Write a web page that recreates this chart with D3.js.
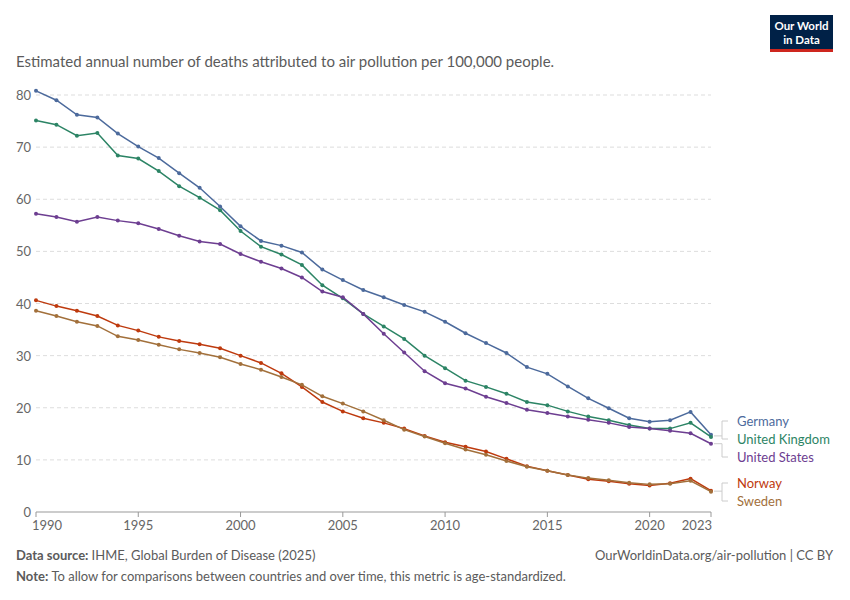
<!DOCTYPE html>
<html><head><meta charset="utf-8">
<script src="https://cdn.jsdelivr.net/npm/d3@7"></script>
<style>body{margin:0;background:#fff;font-family:Lato,sans-serif}</style>
</head><body><svg id="c" width="850" height="600"></svg>
<script>
const years = d3.range(1990, 2024);
const germany = [80.8,79,76.2,75.7,72.6,70.1,67.9,65,62.2,58.6,54.8,52,51.1,49.8,46.5,44.5,42.6,41.2,39.7,38.4,36.5,34.3,32.4,30.5,27.8,26.5,24.1,21.8,19.9,18,17.3,17.6,19.2,14.8];
const uk = [75.1,74.3,72.2,72.7,68.4,67.8,65.4,62.5,60.3,57.9,53.9,50.9,49.4,47.4,43.5,41,38,35.6,33.2,30,27.6,25.2,24,22.7,21.1,20.5,19.3,18.3,17.6,16.7,16,16,17.1,14.4];
const us = [57.2,56.6,55.7,56.6,55.9,55.4,54.3,53,51.9,51.4,49.5,48,46.7,45,42.3,41.2,38,34.2,30.6,27,24.7,23.7,22.1,20.9,19.6,19,18.3,17.7,17.1,16.3,16,15.6,15.1,13.1];
const norway = [40.6,39.5,38.6,37.6,35.8,34.8,33.6,32.8,32.2,31.4,30,28.6,26.6,24,21.1,19.3,18,17.1,16,14.6,13.4,12.5,11.6,10.2,8.8,7.9,7.1,6.3,5.9,5.4,5.1,5.5,6.4,4.1];
const sweden = [38.6,37.6,36.5,35.7,33.7,33,32.1,31.2,30.5,29.7,28.4,27.3,25.9,24.4,22.2,20.8,19.3,17.6,15.8,14.5,13.2,12,11,9.8,8.7,7.9,7.1,6.5,6.1,5.6,5.3,5.4,6,3.9];
const xTicks = [1990,1995,2000,2005,2010,2015,2020,2023];
const yTicks = [0,10,20,30,40,50,60,70,80];
const series = [
  {name:"Germany", v:germany, c:"#4c6a9c", ly:426},
  {name:"United Kingdom", v:uk, c:"#2c8465", ly:444},
  {name:"United States", v:us, c:"#6d3e91", ly:462},
  {name:"Norway", v:norway, c:"#be3a0e", ly:488},
  {name:"Sweden", v:sweden, c:"#a2703b", ly:506}
];
const svg = d3.select("#c");
const x = d3.scaleLinear().domain([1990,2023]).range([36,711]);
const y = d3.scaleLinear().domain([0,80]).range([512,95]);
svg.append("text").attr("x",16).attr("y",67).attr("fill","#5b5b5b").attr("font-size",15)
  .text("Estimated annual number of deaths attributed to air pollution per 100,000 people.");
svg.append("rect").attr("x",770).attr("y",15).attr("width",63).attr("height",37).attr("fill","#002147");
svg.append("rect").attr("x",770).attr("y",49).attr("width",63).attr("height",3).attr("fill","#ce261e");
svg.append("text").attr("x",801.5).attr("y",30).attr("text-anchor","middle").attr("fill","#fff").attr("font-size",11.5).attr("font-weight",700).text("Our World");
svg.append("text").attr("x",801.5).attr("y",44).attr("text-anchor","middle").attr("fill","#fff").attr("font-size",11.5).attr("font-weight",700).text("in Data");
yTicks.forEach(t=>{
  if(t>0) svg.append("line").attr("x1",36).attr("x2",711).attr("y1",y(t)).attr("y2",y(t)).attr("stroke","#ddd").attr("stroke-dasharray","4,3");
  svg.append("text").attr("x",31).attr("y",y(t)+5).attr("text-anchor","end").attr("fill","#666").attr("font-size",13).text(t);
});
svg.append("line").attr("x1",36).attr("x2",711).attr("y1",512).attr("y2",512).attr("stroke","#999");
xTicks.forEach(t=>{
  svg.append("line").attr("x1",x(t)).attr("x2",x(t)).attr("y1",512).attr("y2",517).attr("stroke","#999");
  svg.append("text").attr("x",x(t)).attr("y",530).attr("text-anchor",t==1990?"start":t==2023?"end":"middle").attr("dx",t==1990?-4:t==2023?1:0).attr("fill","#666").attr("font-size",13).text(t);
});
const line = d3.line().x((d,i)=>x(years[i])).y(d=>y(d));
series.forEach(s=>{
  svg.append("path").attr("d",line(s.v)).attr("fill","none").attr("stroke",s.c).attr("stroke-width",1.5);
  svg.selectAll(null).data(s.v).enter().append("circle").attr("cx",(d,i)=>x(years[i])).attr("cy",d=>y(d)).attr("r",2).attr("fill",s.c);
});
const ey = series.map(s=>y(s.v[s.v.length-1]));
const L = series.map(s=>s.ly-5);
svg.append("path").attr("d",`M714,${(ey[0]+ey[1])/2} H722 M722,${L[0]} V${L[1]} M722,${L[0]} H728 M722,${L[1]} H728`).attr("stroke","#ccc").attr("fill","none");
svg.append("path").attr("d",`M714,${ey[2]} H722 V${L[2]} H728`).attr("stroke","#ccc").attr("fill","none");
svg.append("path").attr("d",`M714,${(ey[3]+ey[4])/2} H722 M722,${L[3]} V${L[4]} M722,${L[3]} H728 M722,${L[4]} H728`).attr("stroke","#ccc").attr("fill","none");
series.forEach(s=>svg.append("text").attr("x",737).attr("y",s.ly).attr("fill",s.c).attr("font-size",13).text(s.name));
const f1=svg.append("text").attr("x",16).attr("y",560).attr("font-size",13).attr("fill","#5b5b5b");
f1.append("tspan").attr("font-weight",700).text("Data source: ");
f1.append("tspan").text("IHME, Global Burden of Disease (2025)");
svg.append("text").attr("x",833).attr("y",560).attr("text-anchor","end").attr("font-size",13).attr("fill","#5b5b5b").text("OurWorldinData.org/air-pollution | CC BY");
const f2=svg.append("text").attr("x",16).attr("y",581).attr("font-size",13).attr("fill","#5b5b5b");
f2.append("tspan").attr("font-weight",700).text("Note: ");
f2.append("tspan").text("To allow for comparisons between countries and over time, this metric is age-standardized.");
</script></body></html>
